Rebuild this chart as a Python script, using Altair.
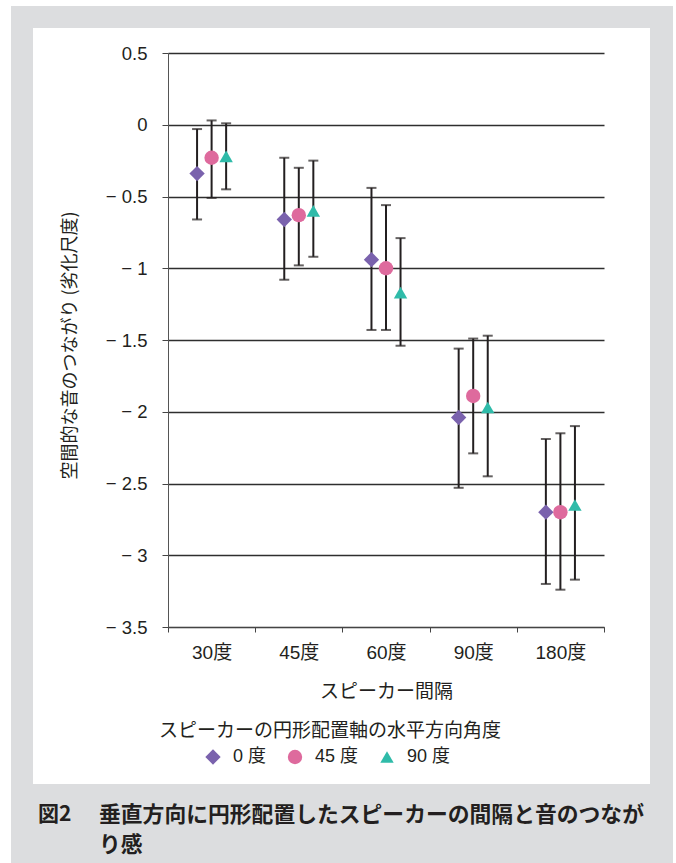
import altair as alt
import pandas as pd

# Speaker spacing (x categories) and horizontal angle of the circular layout axis (series)
categories = ["30度", "45度", "60度", "90度", "180度"]
series = ["0 度", "45 度", "90 度"]

# Mean score and error-bar ends for each series, in category order
mean_0 = [-0.34, -0.66, -0.94, -2.04, -2.70]
low_0 = [-0.66, -1.08, -1.43, -2.53, -3.20]
high_0 = [-0.03, -0.23, -0.44, -1.56, -2.19]

mean_45 = [-0.23, -0.63, -1.00, -1.89, -2.70]
low_45 = [-0.51, -0.98, -1.43, -2.29, -3.24]
high_45 = [0.03, -0.30, -0.56, -1.49, -2.15]

mean_90 = [-0.22, -0.60, -1.17, -1.97, -2.65]
low_90 = [-0.45, -0.92, -1.54, -2.45, -3.17]
high_90 = [0.01, -0.25, -0.79, -1.47, -2.10]

y_ticks = [0.5, 0, -0.5, -1, -1.5, -2, -2.5, -3, -3.5]

colors = ["#7a62ad", "#de6a9d", "#2fbba9"]
shapes = ["diamond", "circle", "triangle-up"]
marker_sizes = [235, 180, 210]

rows = []
for name, m, lo, hi in [
    (series[0], mean_0, low_0, high_0),
    (series[1], mean_45, low_45, high_45),
    (series[2], mean_90, low_90, high_90),
]:
    for cat, mv, lv, hv in zip(categories, m, lo, hi):
        rows.append({"spacing": cat, "angle": name, "mean": mv, "low": lv, "high": hv})
df = pd.DataFrame(rows)

FONT = "Liberation Sans, Noto Sans CJK JP, sans-serif"
JP = "Noto Sans CJK JP, sans-serif"
INK = "#231f20"
GRAY = "#dcdddf"
W, H = 436, 574
BAND = W / len(categories)

x_enc = alt.X(
    "spacing:N",
    sort=categories,
    title="スピーカー間隔",
    scale=alt.Scale(domain=categories, paddingInner=0, paddingOuter=0),
    axis=alt.Axis(
        tickBand="extent", labelAngle=0, tickSize=5, labelPadding=11,
        labelFontSize=19, titleFontSize=19, titlePadding=20, titleFont=JP,
        titleFontWeight="normal",
        domainColor="#444444", tickColor="#444444", grid=False,
    ),
)
# the three series sit side by side inside each band, about a sixth of a band apart
xoff = alt.XOffset(
    "angle:N", sort=series,
    scale=alt.Scale(domain=series, range=[BAND / 4, BAND * 3 / 4],
                    paddingInner=0, paddingOuter=0),
)
y_scale = alt.Scale(domain=[-3.5, 0.5], nice=False, zero=False)
y_axis = alt.Axis(
    values=y_ticks,
    labelExpr="datum.value < 0 ? '\u2212 ' + format(-datum.value, '') : format(datum.value, '')",
    tickSize=6, labelPadding=15, labelFontSize=18.5,
    grid=True, gridColor="#2e2e2e", gridWidth=1.3,
    domainColor="#555555", tickColor="#444444",
    title="空間的な音のつながり (劣化尺度)", titleFont=JP, titleFontSize=18,
    titleFontWeight="normal", titleX=-98, titleY=H / 2 + 5, titleAngle=-90,
    titleAlign="center", titleBaseline="middle",
)

base = alt.Chart(df)

one = pd.DataFrame({"k": [0]})
panel = alt.Chart(one)

# gray frame around the white figure panel, drawn as four strips
frame_top = panel.mark_rect(color=GRAY).encode(
    x=alt.value(-157), x2=alt.value(505), y=alt.value(-47), y2=alt.value(-25)
)
frame_bottom = panel.mark_rect(color=GRAY).encode(
    x=alt.value(-157), x2=alt.value(505), y=alt.value(731), y2=alt.value(H + 236)
)
frame_left = panel.mark_rect(color=GRAY).encode(
    x=alt.value(-157), x2=alt.value(-135), y=alt.value(-25), y2=alt.value(731)
)
frame_right = panel.mark_rect(color=GRAY).encode(
    x=alt.value(482), x2=alt.value(505), y=alt.value(-25), y2=alt.value(731)
)

bars = base.mark_rule(color=INK, strokeWidth=2).encode(
    x=x_enc, xOffset=xoff,
    y=alt.Y("low:Q", scale=y_scale, axis=y_axis), y2="high:Q",
)
cap_low = base.mark_tick(color=INK, thickness=2, size=10).encode(
    x=x_enc, xOffset=xoff, y=alt.Y("low:Q", scale=y_scale)
)
cap_high = base.mark_tick(color=INK, thickness=2, size=10).encode(
    x=x_enc, xOffset=xoff, y=alt.Y("high:Q", scale=y_scale)
)

legend = alt.Legend(
    title=None, orient="none", direction="horizontal",
    legendX=36, legendY=695, symbolSize=200, labelFontSize=18,
    labelOffset=11, columnPadding=19, padding=0,
    symbolStrokeWidth=0, labelColor=INK,
)
points = base.mark_point(filled=True, opacity=1).encode(
    x=x_enc, xOffset=xoff,
    y=alt.Y("mean:Q", scale=y_scale),
    color=alt.Color("angle:N", sort=series,
                    scale=alt.Scale(domain=series, range=colors), legend=legend),
    shape=alt.Shape("angle:N", sort=series,
                    scale=alt.Scale(domain=series, range=shapes), legend=legend),
    size=alt.Size("angle:N", sort=series,
                  scale=alt.Scale(domain=series, range=marker_sizes), legend=None),
)

legend_title = panel.mark_text(
    text="スピーカーの円形配置軸の水平方向角度", font=JP, fontSize=19,
    align="center", baseline="middle", color=INK,
).encode(x=alt.value(162), y=alt.value(678))

cap_num = panel.mark_text(
    text="図2", font=JP, fontSize=21, fontWeight="bold",
    align="left", baseline="middle", color=INK,
).encode(x=alt.value(-130), y=alt.value(762))
cap_line1 = panel.mark_text(
    text="垂直方向に円形配置したスピーカーの間隔と音のつなが", font=JP, fontSize=21.8,
    fontWeight="bold", align="left", baseline="middle", color=INK,
).encode(x=alt.value(-69), y=alt.value(762))
cap_line2 = panel.mark_text(
    text="り感", font=JP, fontSize=21.8, fontWeight="bold",
    align="left", baseline="middle", color=INK,
).encode(x=alt.value(-69), y=alt.value(792))

chart = alt.layer(
    frame_top, frame_bottom, frame_left, frame_right,
    bars, cap_low, cap_high, points,
    legend_title, cap_num, cap_line1, cap_line2,
).properties(
    width=W, height=H,
    autosize=alt.AutoSizeParams(type="none"),
    padding={"left": 168, "top": 53, "right": 72, "bottom": 236},
    background="#ffffff",
).configure_view(strokeWidth=0).configure_axis(
    labelFont=FONT, titleFont=JP, labelColor=INK, titleColor=INK,
).configure_legend(labelFont=FONT)

chart.save("out.html", embed_options={"renderer": "svg", "actions": False})
